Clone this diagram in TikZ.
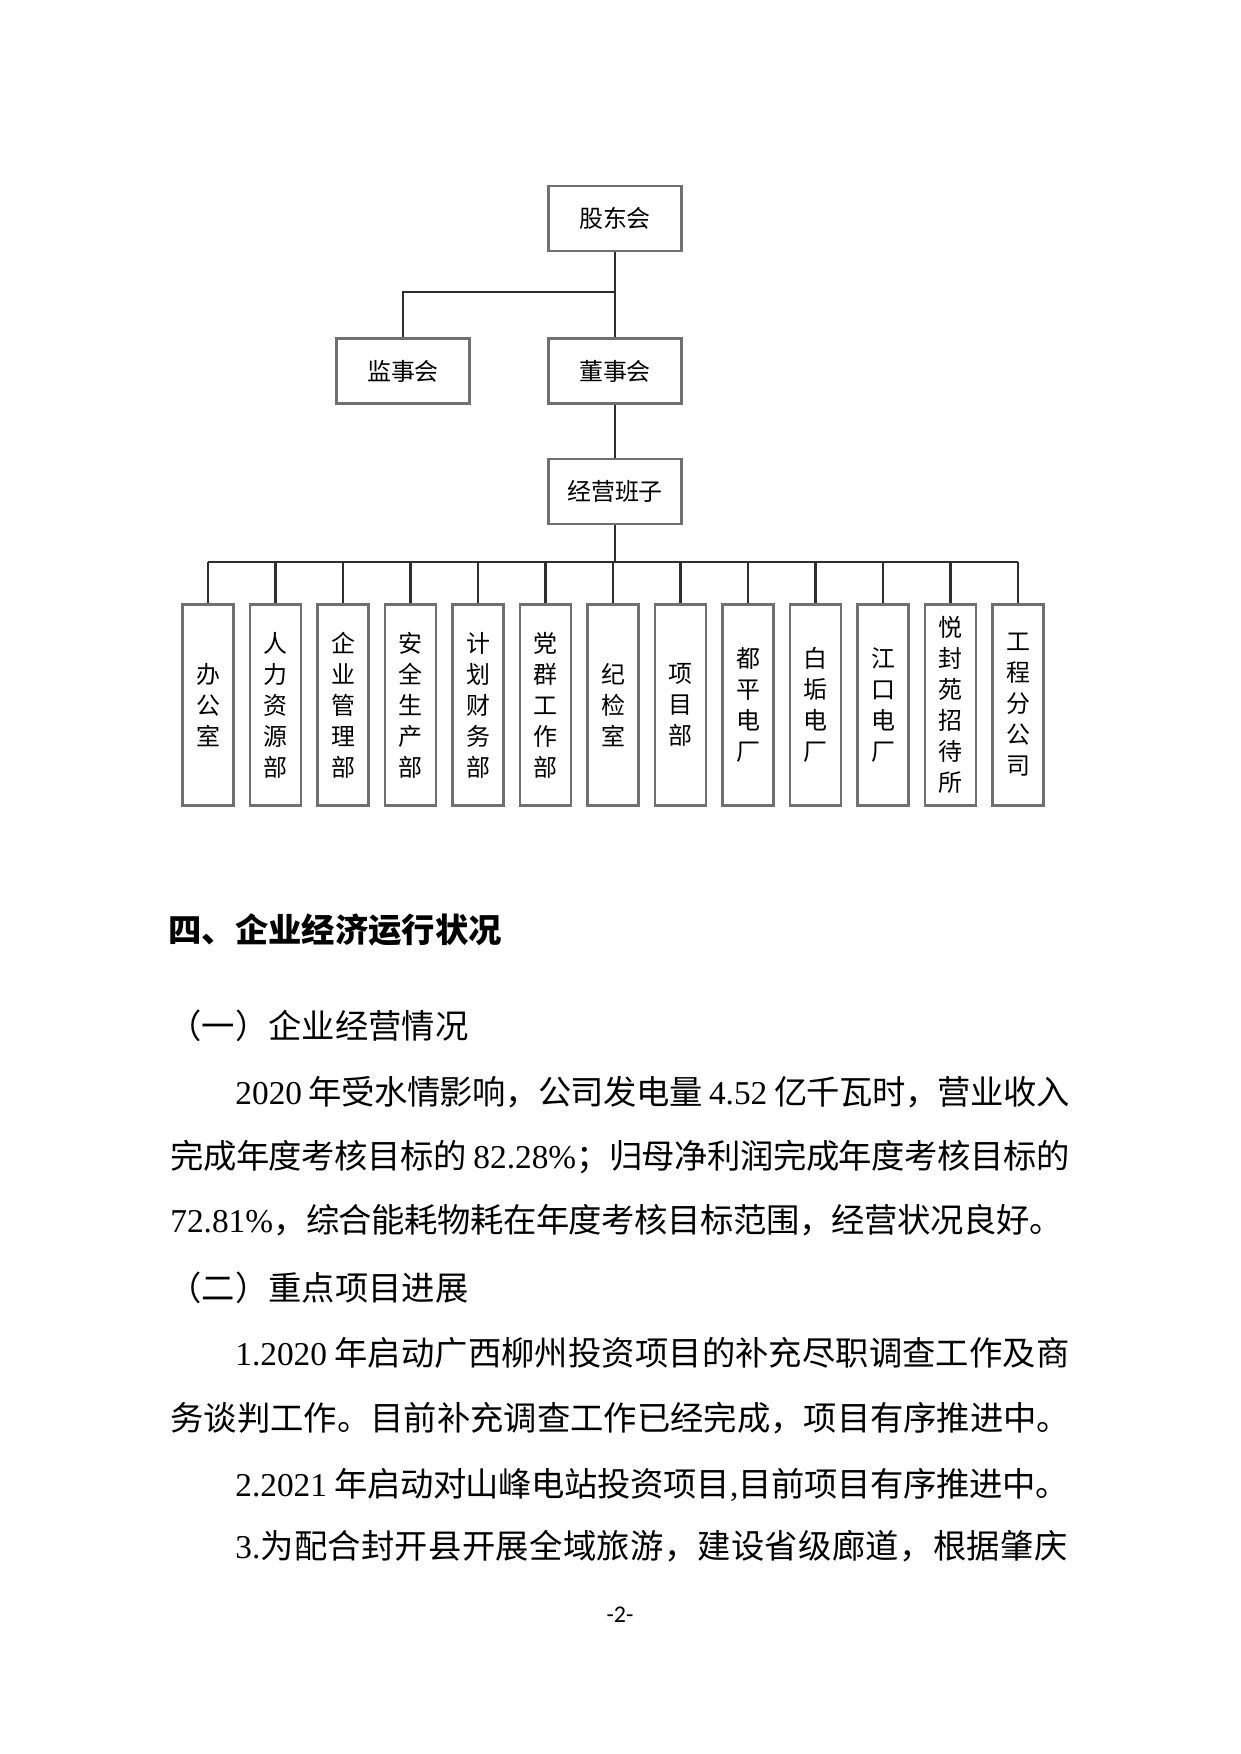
\documentclass[tikz,border=0pt]{standalone}
\usepackage{fontspec}
\usepackage{tikz}
\usetikzlibrary{positioning}
\newfontfamily\cjk{Noto Sans CJK SC}
\newfontfamily\latin{Liberation Serif}
\newfontfamily\footfont{Carlito}
\newcommand\lat[1]{{\latin #1}}
\newlength\pxu \setlength\pxu{0.48006pt}
\newcommand\jline[2]{\makebox[#1\pxu][s]{#2}}
% glue between CJK characters, so that full lines can be justified
\XeTeXinterchartokenstate=1
\newXeTeXintercharclass\cjkcls
\newcount\cjkc
\def\cjkrange#1#2{\cjkc=#1 \loop\XeTeXcharclass\cjkc=\cjkcls \ifnum\cjkc<#2 \advance\cjkc by 1 \repeat}
\cjkrange{"3000}{"303F}
\cjkrange{"4E00}{"9FFF}
\cjkrange{"FF00}{"FFEF}
\XeTeXinterchartoks\cjkcls\cjkcls={\hskip0pt plus 1fil minus 1pt}
\XeTeXinterchartoks 0 \cjkcls={\hskip0pt plus 1fil minus 1pt}
\XeTeXinterchartoks\cjkcls 0 ={\hskip0pt plus 1fil minus 1pt}
\definecolor{boxgray}{HTML}{707070}
\definecolor{linkgray}{HTML}{2E2E2E}

\begin{document}
\begin{tikzpicture}[
  x=0.48006pt, y=-0.48006pt,
  unit/.style={draw=boxgray, line width=1.4pt, minimum width=63.8pt, minimum height=31.2pt, inner sep=0pt,
    font=\cjk\fontsize{11.5}{14.9}\selectfont},
  dept/.style={draw=boxgray, line width=1.2pt, minimum width=24.7pt, minimum height=96.7pt, inner sep=0pt,
    align=center, font=\cjk\fontsize{11.5}{14.9}\selectfont},
  link/.style={draw=linkgray, line width=1pt},
  body/.style={anchor=base west, inner sep=0pt, font=\cjk\fontsize{16}{20}\selectfont},
  head/.style={anchor=base west, inner sep=0pt, font=\cjk\bfseries\fontsize{16}{20}\selectfont}
]
\fill[white] (0,0) rectangle (1240,1754);
\useasboundingbox (0,0) rectangle (1240,1754);

% chart
\node[unit] (gudong) at (615,218.5) {股东会};
\node[unit] (jianshi) at (403,371) {监事会};
\node[unit] (dongshi) at (615,371) {董事会};
\node[unit] (jingying) at (615,491.5) {经营班子};
\coordinate (split) at (615,292);
\coordinate (bus) at (615,562);
\draw[link] (gudong) -- (dongshi);
\draw[link] (split) -| (jianshi);
\draw[link] (dongshi) -- (jingying);
\draw[link] (jingying) -- (bus);

\foreach \lbl [count=\i from 0] in {{办\\公\\室}, {人\\力\\资\\源\\部}, {企\\业\\管\\理\\部},
    {安\\全\\生\\产\\部}, {计\\划\\财\\务\\部}, {党\\群\\工\\作\\部}, {纪\\检\\室}, {项\\目\\部},
    {都\\平\\电\\厂}, {白\\垢\\电\\厂}, {江\\口\\电\\厂}, {悦\\封\\苑\\招\\待\\所}, {工\\程\\分\\公\\司}}
  \node[dept] (dept\i) at (208+67.5*\i,705) {\lbl};
\draw[link] (dept0.north |- bus) -- (dept12.north |- bus);
\foreach \i in {0,...,12}
  \draw[link] (dept\i.north |- bus) -- (dept\i.north);

% text
\node[head] (sec4) at (168,942) {四、企业经济运行状况};
\node[body] (sub1) at (168,1038) {（一）企业经营情况};
\node[body] (p1a) at (235,1104) {\jline{834}{\lat{2020} 年受水情影响，公司发电量 \lat{4.52} 亿千瓦时，营业收入}};
\node[body] (p1b) at (170,1168) {\jline{899}{完成年度考核目标的 \lat{82.28\%}；归母净利润完成年度考核目标的}};
\node[body] (p1c) at (170,1232) {\jline{892}{\lat{72.81\%}，综合能耗物耗在年度考核目标范围，经营状况良好。}};
\node[body] (sub2) at (168,1300) {（二）重点项目进展};
\node[body] (p2a) at (235,1365) {\jline{834}{\lat{1.2020} 年启动广西柳州投资项目的补充尽职调查工作及商}};
\node[body] (p2b) at (170,1430) {务谈判工作。目前补充调查工作已经完成，项目有序推进中。};
\node[body] (p3) at (235,1496) {\jline{833}{\lat{2.2021} 年启动对山峰电站投资项目\lat{,}目前项目有序推进中。}};
\node[body] (p4) at (235,1558) {\jline{832}{\lat{3.}为配合封开县开展全域旅游，建设省级廊道，根据肇庆}};
\node[anchor=base, inner sep=0pt, font=\footfont\fontsize{11.5}{14}\selectfont] (pageno) at (620,1622) {-2-};
\end{tikzpicture}
\end{document}
